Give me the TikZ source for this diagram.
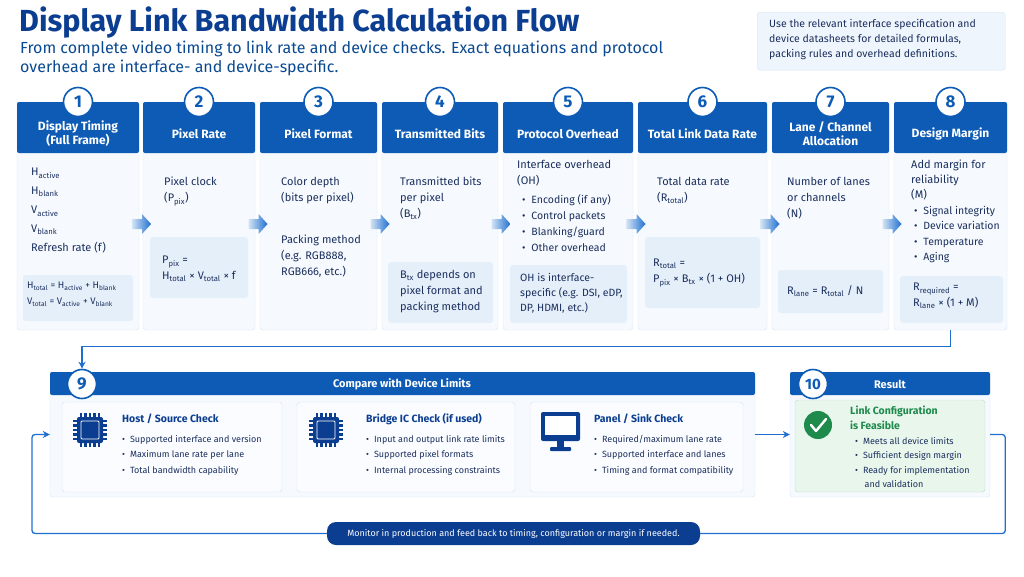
\documentclass[tikz,border=0pt]{standalone}
\usepackage{fontspec}
\setmainfont{Fira Sans}
\usetikzlibrary{positioning,arrows.meta,shadings}
\definecolor{navy}{HTML}{0B3D91}
\definecolor{hdrblue}{HTML}{0D5BB5}
\definecolor{textblue}{HTML}{1B2F5E}
\definecolor{cardfill}{HTML}{F6FAFE}
\definecolor{cardline}{HTML}{D3E3F4}
\definecolor{boxfill}{HTML}{E5EFFA}
\definecolor{okgreen}{HTML}{1E8A4C}
\definecolor{okfill}{HTML}{E9F6EC}
\definecolor{flowblue}{HTML}{1F6FD0}
\tikzset{
  card/.style={draw=cardline, fill=cardfill, rounded corners=3pt, inner sep=0pt},
  fbox/.style={fill=boxfill, rounded corners=3pt},
  hdrtext/.style={text=white, font=\fontsize{12}{14}\selectfont\bfseries, align=center},
  badge/.style={circle, draw=hdrblue, line width=1.6pt, fill=white, text=hdrblue,
    minimum size=29pt, inner sep=0pt, font=\fontsize{17}{17}\selectfont\bfseries},
  body/.style={anchor=north west, align=left, text=textblue, inner sep=0pt,
    font=\fontsize{11}{16}\selectfont},
  small/.style={anchor=north west, align=left, text=textblue, inner sep=0pt,
    font=\fontsize{9}{15.5}\selectfont},
  flow/.style={draw=flowblue, line width=1.3pt, -{Stealth[length=7pt,width=7pt]}},
}
% chunky step arrow
\newcommand\steparrow[2]{%
  \shade[left color=cardline, right color=flowblue] (#1-9,#2-5) -- (#1+1,#2-5) -- (#1+1,#2-10)
    -- (#1+10,#2) -- (#1+1,#2+10) -- (#1+1,#2+5) -- (#1-9,#2+5) -- cycle;}
% chip icon
\newcommand\chipicon[2]{%
  \foreach \k in {-9,-4.5,0,4.5,9}{
    \fill[navy] (#1+\k-1.2,#2-17) rectangle (#1+\k+1.2,#2+17);
    \fill[navy] (#1-17,#2+\k-1.2) rectangle (#1+17,#2+\k+1.2);}
  \fill[navy, rounded corners=2pt] (#1-13,#2-13) rectangle (#1+13,#2+13);
  \draw[white, line width=0.8pt, rounded corners=1pt] (#1-9,#2-9) rectangle (#1+9,#2+9);}
\newcommand\bl{\textbullet\hspace{0.55em}}
\begin{document}
\begin{tikzpicture}[x=1pt,y=-1pt]
\useasboundingbox (0,0) rectangle (1024,576);
% title and note
\node[anchor=west, inner sep=0pt, text=navy, font=\fontsize{30.5}{33}\selectfont\bfseries] (title) at (19,23) {Display Link Bandwidth Calculation Flow};
\node[anchor=north west, inner sep=0pt, align=left, text=hdrblue!80!black, font=\fontsize{16}{19}\selectfont] (sub) at (20,41)
  {From complete video timing to link rate and device checks. Exact equations and protocol\\overhead are interface- and device-specific.};
\node[draw=cardline, fill=boxfill!60, rounded corners=3pt, minimum width=248pt, minimum height=58pt, anchor=north west] (note) at (757,12) {};
\node[anchor=north west, align=left, inner sep=0pt, text=textblue, font=\fontsize{10.5}{15}\selectfont] at (769,19)
  {Use the relevant interface specification and\\device datasheets for detailed formulas,\\packing rules and overhead definitions.};
% eight step columns
\foreach \n/\xa/\xb/\t in {1/17/139/{Display Timing\\(Full Frame)},2/143/255/{Pixel Rate},
    3/260/377/{Pixel Format},4/382/498/{Transmitted Bits},5/503/633/{Protocol Overhead},
    6/638/767/{Total Link Data Rate},7/772/889/{Lane / Channel\\Allocation},8/894/1007/{Design Margin}}{
  \pgfmathsetmacro\w{\xb-\xa}
  \pgfmathsetmacro\xm{(\xa+\xb)/2}
  \node[card, minimum width=\w pt, minimum height=228pt] (col\n) at (\xm,216) {};
  \fill[hdrblue, rounded corners=2pt] (\xa,102) rectangle (\xb,153);
  \node[hdrtext] at (\xm,134) {\t};
  \node[badge] (b\n) at (\xm,102) {\n};
}
\foreach \x in {141,257.5,379.5,500.5,635.5,769.5,891.5}{\steparrow{\x}{224}}
% column contents
\node[body, font=\fontsize{11}{19}\selectfont] at (31,168) {H\textsubscript{active}\\H\textsubscript{blank}\\V\textsubscript{active}\\V\textsubscript{blank}\\Refresh rate (f)};
\fill[fbox] (23,275) rectangle (133,321);
\node[body, font=\fontsize{9.5}{16}\selectfont] at (27,282) {H\textsubscript{total} = H\textsubscript{active} + H\textsubscript{blank}\\V\textsubscript{total} = V\textsubscript{active} + V\textsubscript{blank}};
\node[body] at (164,177) {Pixel clock\\(P\textsubscript{pix})};
\fill[fbox] (150,237) rectangle (248,298);
\node[body] at (162,256) {P\textsubscript{pix} =\\H\textsubscript{total} × V\textsubscript{total} × f};
\node[body] at (281,177) {Color depth\\(bits per pixel)};
\node[body] at (281,235) {Packing method\\(e.g. RGB888,\\RGB666, etc.)};
\node[body] at (400,177) {Transmitted bits\\per pixel\\(B\textsubscript{tx})};
\fill[fbox] (388,262) rectangle (493,323);
\node[body] at (400,270) {B\textsubscript{tx} depends on\\pixel format and\\packing method};
\node[body] at (517,160) {Interface overhead\\(OH)};
\node[body, font=\fontsize{10.5}{16}\selectfont] at (522,194) {\bl Encoding (if any)\\\bl Control packets\\\bl Blanking/guard\\\bl Other overhead};
\fill[fbox] (510,265) rectangle (627,323);
\node[body, font=\fontsize{10.5}{15}\selectfont] at (520,273) {OH is interface-\\specific (e.g. DSI, eDP,\\DP, HDMI, etc.)};
\node[body] at (657,177) {Total data rate\\(R\textsubscript{total})};
\fill[fbox] (645,237) rectangle (760,308);
\node[body] at (653,259) {R\textsubscript{total} =\\P\textsubscript{pix} × B\textsubscript{tx} × (1 + OH)};
\node[body] at (787,177) {Number of lanes\\or channels\\(N)};
\fill[fbox] (778,270) rectangle (883,313);
\node[body] at (787,285) {R\textsubscript{lane} = R\textsubscript{total} / N};
\node[body, font=\fontsize{11}{15}\selectfont] at (911,160) {Add margin for\\reliability\\(M)};
\node[body, font=\fontsize{10.5}{15.5}\selectfont] at (914,206) {\bl Signal integrity\\\bl Device variation\\\bl Temperature\\\bl Aging};
\fill[fbox] (900,276) rectangle (1003,323);
\node[body] at (913,283) {R\textsubscript{required} =\\R\textsubscript{lane} × (1 + M)};
% device check block
\node[card, minimum width=705pt, minimum height=125pt] (box9) at (402.5,434.5) {};
\fill[hdrblue, rounded corners=2pt] (50,372) rectangle (755,395);
\node[hdrtext, font=\fontsize{11}{13}\selectfont\bfseries] at (402,384) {Compare with Device Limits};
\node[badge] (b9) at (82,384) {9};
\node[card, fill=white!50!cardfill, minimum width=220pt, minimum height=90pt] (host) at (172,447) {};
\node[card, fill=white!50!cardfill, minimum width=218pt, minimum height=90pt] (bridge) at (406,447) {};
\node[card, fill=white!50!cardfill, minimum width=213pt, minimum height=90pt] (panel) at (636.5,447) {};
\chipicon{90}{430}
\chipicon{326}{430}
\fill[navy, rounded corners=2pt] (541,412) rectangle (580,441);
\fill[white] (545,416) rectangle (576,435);
\fill[navy] (557,441) rectangle (564,448);
\fill[navy, rounded corners=1pt] (550,447) rectangle (571,451);
\foreach \x/\t/\l in {122/{Host / Source Check}/{Supported interface and version\\\bl Maximum lane rate per lane\\\bl Total bandwidth capability},
    366/{Bridge IC Check (if used)}/{Input and output link rate limits\\\bl Supported pixel formats\\\bl Internal processing constraints},
    594/{Panel / Sink Check}/{Required/maximum lane rate\\\bl Supported interface and lanes\\\bl Timing and format compatibility}}{
  \node[anchor=west, inner sep=0pt, text=navy, font=\fontsize{10.5}{12}\selectfont\bfseries] at (\x,419) {\t};
  \node[small] at (\x,435) {\bl\l};
}
% result block
\node[card, minimum width=200pt, minimum height=125pt] (box10) at (890,434.5) {};
\fill[hdrblue, rounded corners=2pt] (790,372) rectangle (990,395);
\node[hdrtext, font=\fontsize{11}{13}\selectfont\bfseries] at (890,384) {Result};
\node[badge, font=\fontsize{15}{15}\selectfont\bfseries] (b10) at (813,384) {10};
\node[card, draw=okgreen!30, fill=okfill, minimum width=190pt, minimum height=92pt] (ok) at (890,446) {};
\fill[okgreen] (818,425) circle (14pt);
\draw[white, line width=2.4pt, line cap=round, line join=round] (811,425) -- (816,431) -- (826,419);
\node[anchor=north west, align=left, inner sep=0pt, text=okgreen, font=\fontsize{10.5}{15}\selectfont\bfseries] at (850,406) {Link Configuration\\is Feasible};
\node[small, font=\fontsize{9}{14.5}\selectfont] at (855,437) {\bl Meets all device limits\\\bl Sufficient design margin\\\bl Ready for implementation\\\hspace{1.05em}and validation};
% feedback pill
\node[fill=navy, rounded corners=9pt, text=white, minimum width=373pt, minimum height=23pt, font=\fontsize{9}{11}\selectfont] (pill) at (513.5,533.5)
  {Monitor in production and feed back to timing, configuration or margin if needed.};
\coordinate (loopL) at (32,533.5);
% connectors
\draw[flow] (col8.south) -- ++(0,16) -| (b9.north);
\draw[flow] (box9.east) -- (box10.west);
\draw[draw=flowblue, line width=1.3pt, rounded corners=3pt] (box10.east) -- ++(15,0) |- (pill.east);
\draw[flow, rounded corners=3pt] (pill.west) -- (loopL) |- (box9.west);
\end{tikzpicture}
\end{document}
